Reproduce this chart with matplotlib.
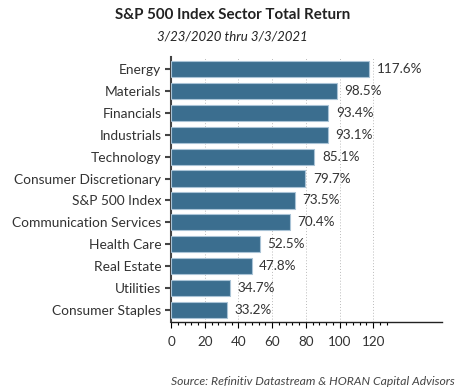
import matplotlib
matplotlib.use("Agg")
import matplotlib.pyplot as plt
import numpy as np
from matplotlib.ticker import FixedLocator

categories = ["Energy", "Materials", "Financials", "Industrials", "Technology",
              "Consumer Discretionary", "S&P 500 Index", "Communication Services",
              "Health Care", "Real Estate", "Utilities", "Consumer Staples"]
values = [117.6, 98.5, 93.4, 93.1, 85.1, 79.7, 73.5, 70.4, 52.5, 47.8, 34.7, 33.2]
xticks = [0, 20, 40, 60, 80, 100, 120]

plt.rcParams['font.family'] = ['Lato', 'DejaVu Sans']

fig = plt.figure(figsize=(4.65, 3.88), dpi=100)
ax = fig.add_axes([0.368, 0.170, 0.583, 0.683])

y = np.arange(len(categories))
ax.barh(y, values, height=0.74, color="#3b6e8f", edgecolor="#a9c3d6", linewidth=0.8, zorder=3)
ax.set_ylim(len(categories) - 0.45, -0.55)
ax.set_xlim(0, 161)
ax.set_yticks(y)
ax.set_yticklabels(categories, fontsize=9.9, color="#333333")
ax.set_xticks(xticks)
ax.set_xticklabels([str(t) for t in xticks], fontsize=9.7, color="#333333")
ax.xaxis.set_minor_locator(FixedLocator([v for v in range(0, 129, 4) if v % 20 != 0]))
ax.tick_params(axis='x', which='major', length=4, width=0.8, direction='out', pad=6)
ax.tick_params(axis='x', which='minor', length=2.5, width=0.8, direction='out')
ax.tick_params(axis='y', length=4, width=1.5, color="#444444", pad=3)
for xv in xticks[1:]:
    ax.axvline(xv, color="#bbbbbb", linestyle=(0, (1, 2)), linewidth=0.7, zorder=1)
for s in ["top", "right"]:
    ax.spines[s].set_visible(False)
ax.spines["left"].set_color("#444444")
ax.spines["left"].set_linewidth(1.5)
ax.spines["bottom"].set_color("#222222")
ax.spines["bottom"].set_linewidth(1.0)

for yi, v in zip(y, values):
    ax.text(v + 4.5, yi, f"{v:.1f}%", va="center", ha="left", fontsize=9.7, color="#333333")

fig.text(0.50, 0.962, "S&P 500 Index Sector Total Return", ha="center", va="center",
         fontsize=10.9, fontweight="bold", color="#222222")
fig.text(0.50, 0.905, "3/23/2020 thru 3/3/2021", ha="center", va="center",
         fontsize=9.5, style="italic", color="#222222")
fig.text(0.978, 0.018, "Source: Refinitiv Datastream & HORAN Capital Advisors", ha="right",
         va="center", fontsize=8.7, style="italic", color="#444444")

fig.savefig("out.png", dpi=100)
